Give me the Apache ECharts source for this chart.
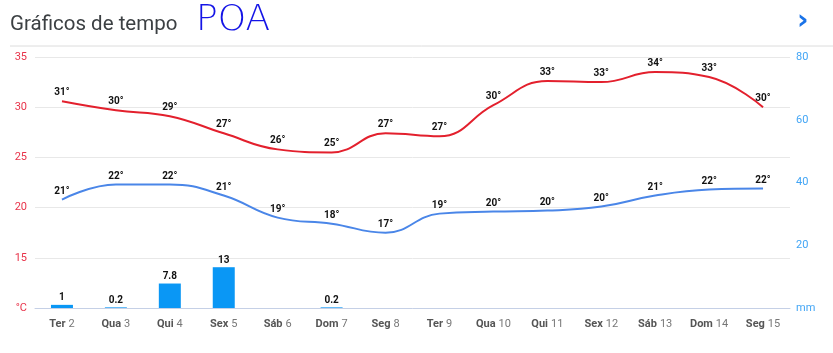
<!DOCTYPE html>
<html>
<head>
<meta charset="utf-8">
<script src="https://cdn.jsdelivr.net/npm/echarts@6/dist/echarts.min.js"></script>
<style>
	html, body { margin: 0; padding: 0; background: #fff; }
	#chart { width: 833px; height: 353px; }
</style>
</head>
<body>
<div id="chart"></div>
<script>
	// dias
	var dias = ['Ter', 'Qua', 'Qui', 'Sex', 'Sáb', 'Dom', 'Seg', 'Ter', 'Qua', 'Qui', 'Sex', 'Sáb', 'Dom', 'Seg'];
	var datas = [2, 3, 4, 5, 6, 7, 8, 9, 10, 11, 12, 13, 14, 15];
	// temperatura maxima / minima (linha) e rotulos
	var maxima = [30.6, 29.7, 29.1, 27.4, 25.8, 25.5, 27.4, 27.1, 30.2, 32.6, 32.5, 33.5, 33.0, 30.0];
	var maxRotulos = [31, 30, 29, 27, 26, 25, 27, 27, 30, 33, 33, 34, 33, 30];
	var minima = [20.8, 22.3, 22.3, 21.2, 19.0, 18.4, 17.5, 19.4, 19.6, 19.7, 20.1, 21.2, 21.8, 21.9];
	var minRotulos = [21, 22, 22, 21, 19, 18, 17, 19, 20, 20, 20, 21, 22, 22];
	// chuva mm
	var chuva = [1, 0.2, 7.8, 13, null, 0.2, null, null, null, null, null, null, null, null];

	var categorias = [];
	for (var i = 0; i < dias.length; i++) {
		categorias.push(dias[i] + ' ' + datas[i]);
	}

	var rotuloLinha = function (lista) {
		return {
			show: true,
			position: 'top',
			distance: 3,
			color: '#111',
			fontWeight: 'bold',
			fontSize: 10,
			fontFamily: 'Roboto',
			formatter: function (p) { return lista[p.dataIndex] + '°'; }
		};
	};

	var option = {
		animation: false,
		textStyle: { fontFamily: 'Roboto' },
		graphic: [
			{ type: 'text', left: 10, top: 14, style: { text: 'Gráficos de tempo', fontSize: 20.5, fill: '#3c4043', fontFamily: 'Roboto' } },
			{ type: 'text', left: 196, top: 3, style: { text: 'POA', fontSize: 36, fill: '#1414e6', fontFamily: 'DejaVu Sans', fontWeight: 'lighter' } },
			{ type: 'text', left: 797, top: 8, style: { text: '›', fontSize: 28, fill: '#1a73e8', fontFamily: 'DejaVu Sans', fontWeight: 'bold' } },
			{ type: 'line', shape: { x1: 10, y1: 46, x2: 833, y2: 46 }, style: { stroke: '#dcdcdc', lineWidth: 1 } }
		],
		grid: { left: 35, right: 43, top: 57, bottom: 45 },
		xAxis: [{
			type: 'category',
			data: categorias,
			axisLine: { lineStyle: { color: '#c5d0e6' } },
			axisTick: { alignWithLabel: true, interval: 0, length: 8, lineStyle: { color: '#c5d0e6' } },
			axisLabel: {
				interval: 0,
				margin: 10,
				formatter: function (v) {
					var s = v.split(' ');
					return '{b|' + s[0] + '} {n|' + s[1] + '}';
				},
				rich: {
					b: { fontWeight: 'bold', color: '#555', fontSize: 11, fontFamily: 'Roboto' },
					n: { color: '#777', fontSize: 11, fontFamily: 'Roboto' }
				}
			}
		}],
		yAxis: [{
			type: 'value',
			min: 10,
			max: 35,
			interval: 5,
			axisLine: { show: false },
			axisTick: { show: false },
			splitLine: { lineStyle: { color: '#e8e8e8' } },
			axisLabel: {
				color: '#e8334a',
				fontSize: 11,
				margin: 8,
				formatter: function (v) { return v === 10 ? '°C' : v; }
			}
		}, {
			type: 'value',
			min: 0,
			max: 80,
			interval: 20,
			axisLine: { show: false },
			axisTick: { show: false },
			splitLine: { show: false },
			axisLabel: {
				color: '#42a5f5',
				fontSize: 11,
				margin: 6,
				formatter: function (v) { return v === 0 ? 'mm' : v; }
			}
		}],
		series: [{
			name: 'Chuva',
			type: 'bar',
			yAxisIndex: 1,
			barWidth: 22,
			data: chuva,
			itemStyle: { color: '#0a97f5' },
			label: { show: true, position: 'top', distance: 2, color: '#111', fontWeight: 'bold', fontSize: 10 }
		}, {
			name: 'Máxima',
			type: 'line',
			smooth: 0.45,
			symbol: 'circle',
			symbolSize: 1,
			showSymbol: true,
			itemStyle: { color: 'rgba(0,0,0,0)' },
			data: maxima,
			lineStyle: { color: '#e3202d', width: 2 },
			labelLayout: { hideOverlap: false },
			label: rotuloLinha(maxRotulos)
		}, {
			name: 'Mínima',
			type: 'line',
			smooth: 0.45,
			symbol: 'circle',
			symbolSize: 1,
			showSymbol: true,
			itemStyle: { color: 'rgba(0,0,0,0)' },
			data: minima,
			lineStyle: { color: '#4a86e8', width: 2 },
			labelLayout: { hideOverlap: false },
			label: rotuloLinha(minRotulos)
		}]
	};

	var myChart = echarts.init(document.getElementById('chart'));
	myChart.setOption(option);
</script>
</body>
</html>
